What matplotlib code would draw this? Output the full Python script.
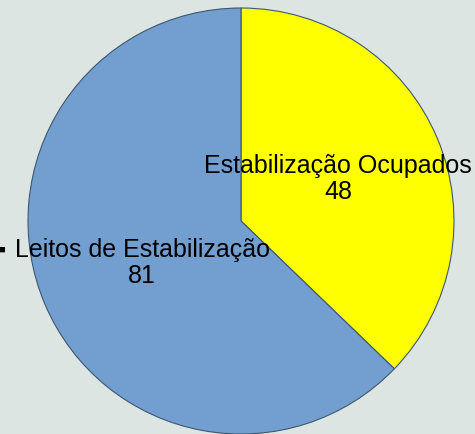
import matplotlib
matplotlib.use("Agg")
from matplotlib import pyplot as plt

labels = ["Estabilização Ocupados", "Leitos de Estabilização"]
values = [48, 81]
colors = ["#ffff00", "#729fcf"]

plt.rcParams["font.family"] = ["Liberation Sans", "DejaVu Sans"]

fig = plt.figure(figsize=(4.75, 4.35), dpi=100)
fig.patch.set_facecolor("#dde5e3")
ax = fig.add_axes([0, 0, 1, 1])

wedges, _ = ax.pie(
    values,
    colors=colors,
    startangle=90,
    counterclock=False,
    center=(241, 213),
    radius=213,
    frame=True,
    wedgeprops=dict(edgecolor="#3d5770", linewidth=0.8),
)
ax.set_xlim(0, 475)
ax.set_ylim(0, 435)
ax.set_aspect("equal")
ax.axis("off")

# label positions (pixel coords, y up)
label_pos = [(338, 256), (142, 172)]
for (x, y), lab, v in zip(label_pos, labels, values):
    ax.text(x, y, f"{lab}\n{v}", ha="center", va="center",
            fontsize=18, linespacing=1.1, color="black")

# stray clipped mark on the left edge
ax.text(2, 185, "■", ha="center", va="center", fontsize=8, color="black")

fig.savefig("out.png", dpi=100, facecolor=fig.get_facecolor())
